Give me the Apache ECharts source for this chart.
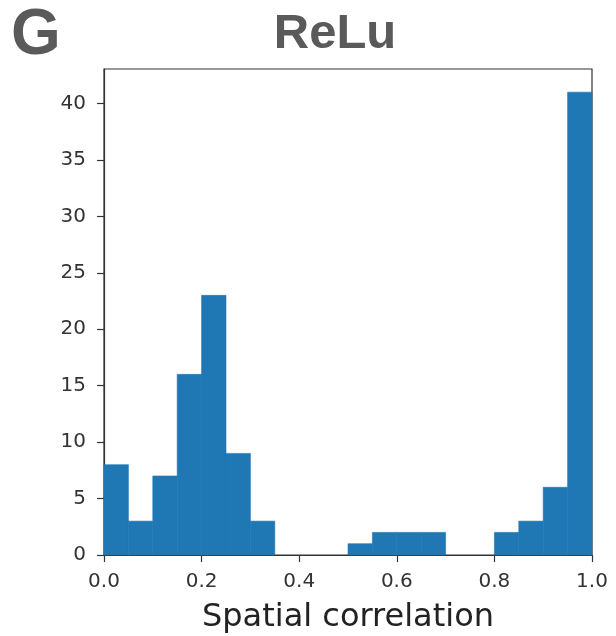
<!DOCTYPE html>
<html><head><meta charset="utf-8">
<script src="https://cdn.jsdelivr.net/npm/echarts@6/dist/echarts.min.js"></script>
<style>html,body{margin:0;padding:0;background:#fff}#c{width:616px;height:636px}</style>
</head><body><div id="c"></div>
<script>
const binStarts = [0.00,0.05,0.10,0.15,0.20,0.25,0.30,0.35,0.40,0.45,0.50,0.55,0.60,0.65,0.70,0.75,0.80,0.85,0.90,0.95];
const binWidth = 0.05;
const counts = [8,3,7,16,23,9,3,0,0,0,1,2,2,2,0,0,2,3,6,41];
const xTicks = [0.0,0.2,0.4,0.6,0.8,1.0];
const yTicks = [0,5,10,15,20,25,30,35,40];

const data = binStarts.map((s,i)=>[s, s+binWidth, counts[i]]);
const chart = echarts.init(document.getElementById('c'));
chart.setOption({
  animation:false,
  graphic:[
    {type:'text', x:36, y:36, style:{text:'G', fontFamily:'Liberation Sans', fontWeight:'bold', fontSize:64, fill:'#5a5a5a', align:'center', verticalAlign:'middle'}},
    {type:'text', x:335, y:34, style:{text:'ReLu', fontFamily:'Liberation Sans', fontWeight:'bold', fontSize:49, fill:'#5a5a5a', align:'center', verticalAlign:'middle'}}
  ],
  grid:{left:104, right:24, top:69, bottom:81, outerBoundsMode:'none', containLabel:false, show:true, borderColor:'#333', borderWidth:1.2, backgroundColor:'transparent'},
  xAxis:{type:'value', min:0, max:1, interval:0.2,
    name:'Spatial correlation', nameLocation:'middle', nameGap:47,
    nameTextStyle:{fontFamily:'DejaVu Sans', fontSize:32, color:'#222'},
    axisLine:{show:true, onZero:false, lineStyle:{color:'#333', width:1.2}},
    axisTick:{show:true, length:7, lineStyle:{color:'#333', width:1.2}},
    axisLabel:{fontFamily:'DejaVu Sans', fontSize:20, color:'#333', margin:17, formatter:v=>v.toFixed(1)},
    splitLine:{show:false}},
  yAxis:{type:'value', min:0, max:43.05, interval:5,
    axisLine:{show:true, lineStyle:{color:'#333', width:1.2}},
    axisTick:{show:true, length:7, lineStyle:{color:'#333', width:1.2}},
    axisLabel:{fontFamily:'DejaVu Sans', fontSize:20, color:'#333', margin:18, showMaxLabel:false,
      formatter:v=>yTicks.includes(v)?String(v):''},
    splitLine:{show:false}},
  series:[{type:'custom', data:data, encode:{x:[0,1], y:2},
    renderItem:function(params, api){
      if (!api.value(2)) return null;
      const p0 = api.coord([api.value(0), 0]);
      const p1 = api.coord([api.value(1), api.value(2)]);
      return {type:'rect', shape:{x:p0[0], y:p1[1], width:p1[0]-p0[0], height:p0[1]-p1[1]},
        style:{fill:'#1f77b4', stroke:'#1f77b4', lineWidth:0.6}};
    }}]
});
</script></body></html>
